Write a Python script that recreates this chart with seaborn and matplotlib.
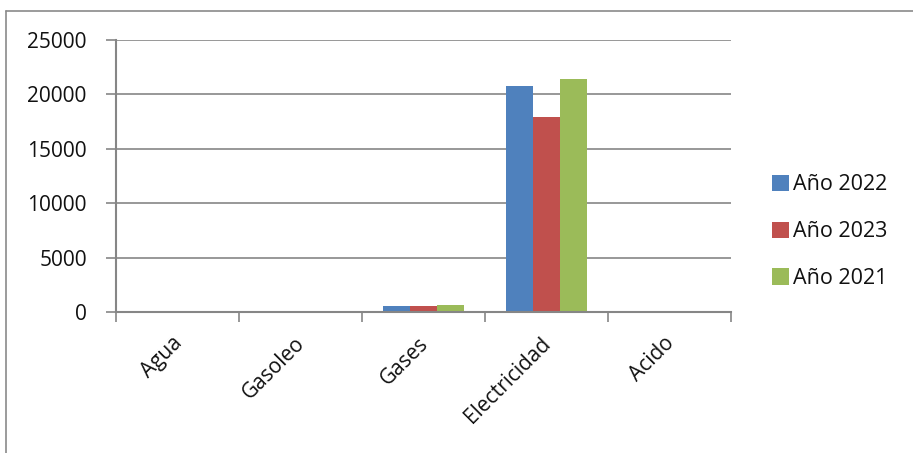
import matplotlib.pyplot as plt
import matplotlib.transforms as mtransforms
import pandas as pd
import seaborn as sns
from matplotlib.lines import Line2D

# data
categories = ['Agua', 'Gasoleo', 'Gases', 'Electricidad', 'Acido']
years = ['Año 2022', 'Año 2023', 'Año 2021']
v2022 = [0, 0, 520, 20750, 0]
v2023 = [0, 0, 550, 17950, 0]
v2021 = [0, 0, 640, 21450, 0]
colors = ['#4F81BD', '#C0504D', '#9BBB59']

rows = []
for year, vals in zip(years, [v2022, v2023, v2021]):
    for cat, v in zip(categories, vals):
        rows.append({'cat': cat, 'year': year, 'val': v})
df = pd.DataFrame(rows)

sns.set_style('white')
plt.rcParams['font.family'] = ['Open Sans', 'DejaVu Sans']

fig = plt.figure(figsize=(9.13, 4.53), dpi=100)
ax = fig.add_axes([116 / 913, 1 - 312 / 453, 615 / 913, 272 / 453])

sns.barplot(data=df, x='cat', y='val', hue='year', palette=colors,
            width=0.66, gap=0, ax=ax, saturation=1, linewidth=0, legend=True)

grid_c = '#868686'
ax.set_ylim(0, 25000)
ax.set_xlim(-0.5, 4.5)
ax.set_yticks(range(0, 25001, 5000))
ax.yaxis.grid(True, color=grid_c, linewidth=1.2)
ax.set_axisbelow(True)
ax.set_xlabel('')
ax.set_ylabel('')

for s in ['top', 'right']:
    ax.spines[s].set_visible(False)
for s in ['left', 'bottom']:
    ax.spines[s].set_color(grid_c)
    ax.spines[s].set_linewidth(1.5)

ax.tick_params(axis='y', direction='out', length=7, width=1.2, color=grid_c,
               labelsize=15, left=True, pad=14, labelcolor='#111111')
ax.set_xticks(range(len(categories)))
ax.set_xticklabels(categories, rotation=45, ha='right', rotation_mode='anchor')
ax.tick_params(axis='x', which='major', length=0, labelsize=15, pad=15,
               labelcolor='#111111')
shift = mtransforms.ScaledTranslation(-6 / 100, 0, fig.dpi_scale_trans)
for lbl in ax.get_xticklabels():
    lbl.set_transform(lbl.get_transform() + shift)
ax.set_xticks([i - 0.5 for i in range(len(categories) + 1)], minor=True)
ax.tick_params(axis='x', which='minor', direction='out', length=7, width=1.2,
               color=grid_c, bottom=True)

ax.legend(loc='center left', bbox_to_anchor=(1.035, 0.295), frameon=False,
          prop={'family': ['Open Sans', 'DejaVu Sans'], 'size': 15.5},
          handlelength=0.8, handleheight=0.8, handletextpad=0.2,
          labelspacing=1.2, labelcolor='#111111')

# outer chart border (only left/top edges visible in the crop)
fig.add_artist(Line2D([6 / 913, 6 / 913], [0, 1 - 11 / 453], color='#8a8a8a',
                      linewidth=1.2, transform=fig.transFigure))
fig.add_artist(Line2D([6 / 913, 1], [1 - 11 / 453, 1 - 11 / 453], color='#8a8a8a',
                      linewidth=1.2, transform=fig.transFigure))

fig.savefig('out.png', dpi=100)
